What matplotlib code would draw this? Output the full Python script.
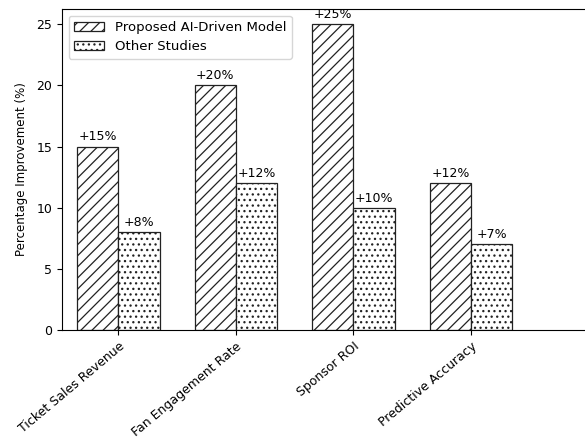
import numpy as np
import matplotlib
matplotlib.use("Agg")
import matplotlib.pyplot as plt

categories = ["Ticket Sales Revenue", "Fan Engagement Rate", "Sponsor ROI", "Predictive Accuracy"]
proposed = [15, 20, 25, 12]
other = [8, 12, 10, 7]

plt.rcParams.update({"font.size": 9, "hatch.linewidth": 0.9})

fig = plt.figure(figsize=(5.85, 4.41), dpi=100)
ax = fig.add_axes([0.106, 0.2517, 0.92, 0.728])

x = np.arange(len(categories))
w = 0.35
b1 = ax.bar(x - w/2, proposed, w, color="white", edgecolor="#222222", hatch="///",
            linewidth=0.9, label="Proposed AI-Driven Model")
b2 = ax.bar(x + w/2, other, w, color="white", edgecolor="#222222", hatch="...",
            linewidth=0.9, label="Other Studies")

for bars, vals in [(b1, proposed), (b2, other)]:
    for b, v in zip(bars, vals):
        ax.text(b.get_x() + b.get_width()/2, v + 0.25, f"+{v}%",
                ha="center", va="bottom")

ax.set_xticks(x)
ax.set_xticklabels(categories, rotation=40, ha="right", rotation_mode="anchor")
ax.set_ylabel("Percentage Improvement (%)", fontsize=8.5, labelpad=6)
ax.set_ylim(0, 26.25)
ax.set_xlim(-0.48, 4.1)
ax.legend(loc="upper left", fontsize=9.5, handlelength=2.3)

fig.savefig("out.png", dpi=100)
